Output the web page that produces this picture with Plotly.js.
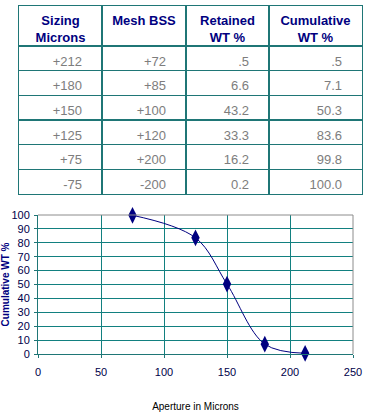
<!DOCTYPE html>
<html>
<head>
<meta charset="utf-8">
<script src="https://cdn.plot.ly/plotly-3.0.1.min.js"></script>
<style>html,body{margin:0;padding:0;background:#fff;}#chart{width:369px;height:416px;}</style>
</head>
<body>
<div id="chart"></div>
<script>
var headers = ["Sizing<br>Microns", "Mesh BSS<br>\u00a0", "Retained<br>WT %", "Cumulative<br>WT %"];
var sizing = ["+212", "+180", "+150", "+125", "+75", "-75"];
var mesh = ["+72", "+85", "+100", "+120", "+200", "-200"];
var retained = [".5", "6.6", "43.2", "33.3", "16.2", "0.2"];
var cumulative = [".5", "7.1", "50.3", "83.6", "99.8", "100.0"];

var apertureX = [75, 125, 150, 180, 212];
var cumulativeY = [99.8, 83.6, 50.3, 7.1, 0.5];

var W = 369, H = 416;
var teal = "#1f7676";
var grid = "#128080";
var navy = "#000080";
var FONT = "Liberation Sans, Arial, sans-serif";

// table geometry (layout, in table-axis units = pixels)
var colWidths = [83, 84, 83, 93];
var headH = 40, tableH = 188;
var columns = [sizing, mesh, retained, cumulative];
var nRows = sizing.length;
var rowH = (tableH - headH) / nRows;

var colEdges = [0];
colWidths.forEach(function(w, i){ colEdges.push(colEdges[i] + w); });
var tableW = colEdges[colEdges.length - 1];
var rowEdges = [headH];
for (var r = 1; r < nRows; r++) rowEdges.push(headH + r * rowH);

var cellX = [], cellY = [], cellT = [];
columns.forEach(function(col, c){
  col.forEach(function(v, r){
    cellX.push(colEdges[c + 1] - 20);
    cellY.push(headH + (r + 0.5) * rowH + 4);
    cellT.push(v);
  });
});
var headX = headers.map(function(h, c){ return (colEdges[c] + colEdges[c + 1]) / 2; });
var headY = headers.map(function(){ return headH / 2 + 4; });

var headTrace = {
  type: "scatter", mode: "text", xaxis: "x2", yaxis: "y2",
  x: headX, y: headY, text: headers.map(function(h){ return "<b>" + h + "</b>"; }),
  textposition: "middle center",
  textfont: {family: FONT, size: 13, color: navy},
  hoverinfo: "skip", cliponaxis: false
};
var cellTrace = {
  type: "scatter", mode: "text", xaxis: "x2", yaxis: "y2",
  x: cellX, y: cellY, text: cellT,
  textposition: "middle left",
  textfont: {family: FONT, size: 13, color: "#7d7d7d"},
  hoverinfo: "skip", cliponaxis: false
};

var curve = {
  type: "scatter",
  mode: "lines+markers",
  x: apertureX,
  y: cumulativeY,
  line: {color: navy, width: 1, shape: "spline", smoothing: 1},
  marker: {symbol: "diamond-tall", size: 12, color: navy},
  xaxis: "x", yaxis: "y",
  hoverinfo: "skip", cliponaxis: false
};

var layout = {
  width: W, height: H,
  margin: {l: 0, r: 0, t: 0, b: 0},
  paper_bgcolor: "#ffffff",
  plot_bgcolor: "#ffffff",
  showlegend: false,
  xaxis: {
    domain: [38/W, 353/W],
    range: [0, 250],
    dtick: 50,
    showgrid: true, gridcolor: grid, gridwidth: 1,
    zeroline: false,
    showline: true, linecolor: teal, linewidth: 1,
    ticks: "outside", ticklen: 3, tickcolor: teal,
    ticklabelstandoff: 5,
    tickfont: {family: FONT, size: 11, color: "#00004a"},
    title: {text: "Aperture in Microns", standoff: 25,
            font: {family: FONT, size: 10, color: "#000"}},
    automargin: false
  },
  yaxis: {
    domain: [(H-354)/H, (H-215)/H],
    range: [0, 100],
    dtick: 10,
    showgrid: true, gridcolor: grid, gridwidth: 1,
    zeroline: false,
    showline: true, linecolor: teal, linewidth: 1,
    ticks: "outside", ticklen: 3, tickcolor: teal,
    ticklabelstandoff: 2,
    tickfont: {family: FONT, size: 11, color: "#00004a"},
    title: {text: "<b>Cumulative WT %</b>", standoff: 3,
            font: {family: FONT, size: 10, color: navy}},
    automargin: false
  },
  xaxis2: {
    domain: [19/W, 362/W], anchor: "y2",
    range: [0, tableW],
    tickvals: colEdges.slice(1, -1),
    showticklabels: false, ticks: "",
    showgrid: true, gridcolor: teal, gridwidth: 1.2,
    zeroline: false,
    showline: true, mirror: true, linecolor: teal, linewidth: 1.2
  },
  yaxis2: {
    domain: [(H-194)/H, (H-6)/H], anchor: "x2",
    range: [tableH, 0],
    tickvals: rowEdges,
    showticklabels: false, ticks: "",
    showgrid: true, gridcolor: teal, gridwidth: 1.2,
    zeroline: false,
    showline: true, mirror: true, linecolor: teal, linewidth: 1.2
  },
  shapes: [{
    type: "path", xref: "x domain", yref: "y domain",
    path: "M0,1 L1,1 L1,0",
    line: {color: "#8c8c8c", width: 1},
    layer: "above"
  }]
};

Plotly.newPlot("chart", [headTrace, cellTrace, curve], layout, {displayModeBar: false, staticPlot: true});
</script>
</body>
</html>
